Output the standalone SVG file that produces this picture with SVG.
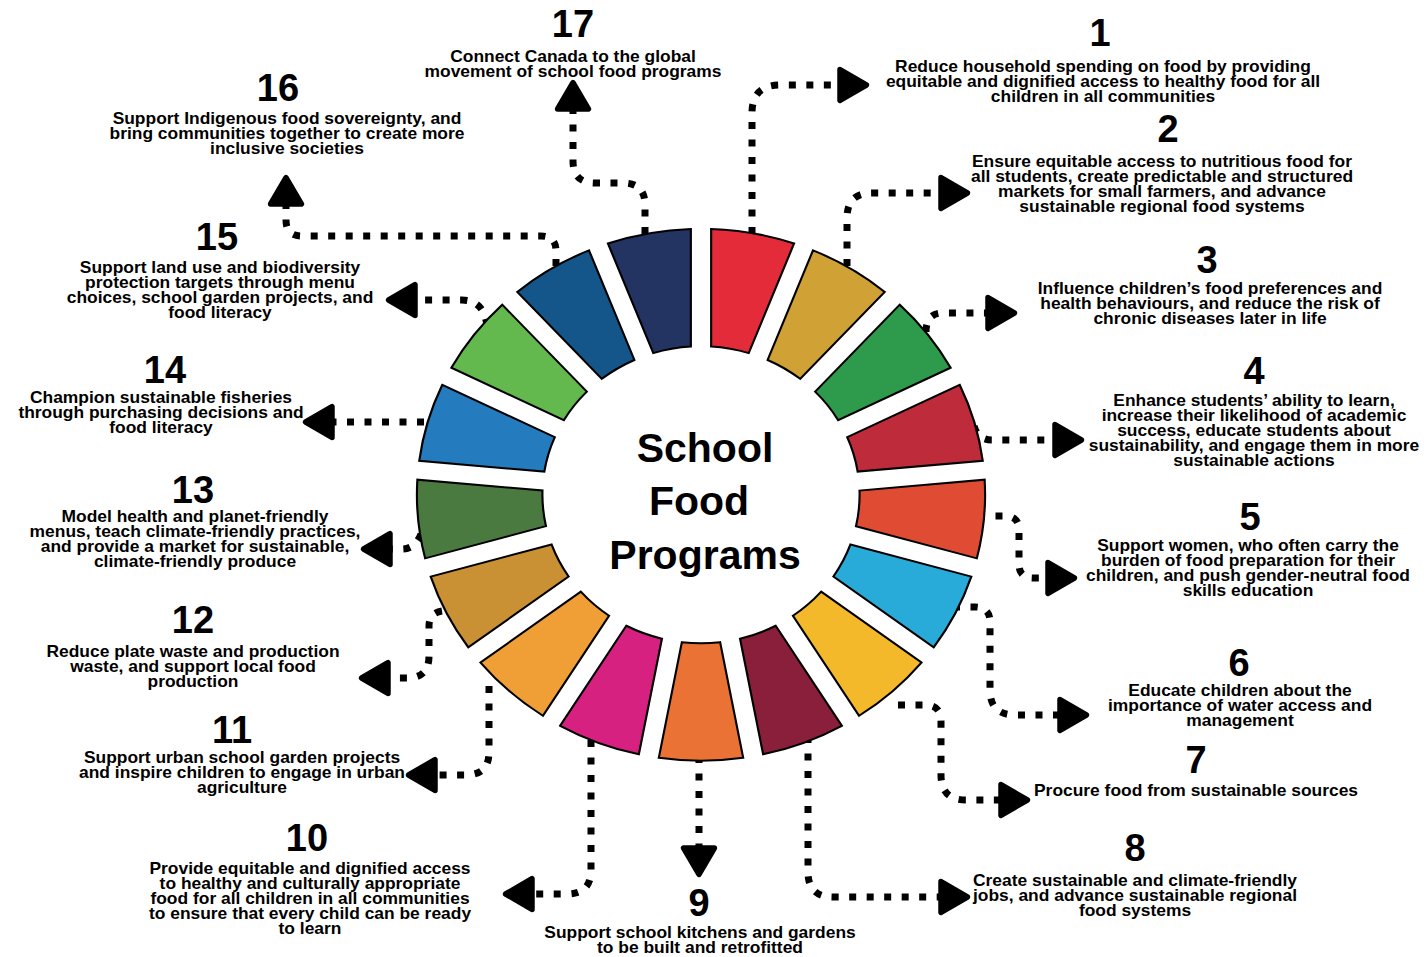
<svg xmlns="http://www.w3.org/2000/svg" xmlns:xlink="http://www.w3.org/1999/xlink" width="1427" height="957" viewBox="0 0 1427 957">
  <defs>
    <style>
      .seg { stroke: #000; stroke-width: 2; stroke-linejoin: miter; vector-effect: non-scaling-stroke; }
      .num { font-family: "Liberation Sans", Arial, sans-serif; font-weight: bold; font-size: 38px; fill: #000; text-anchor: middle; }
      .lbl { font-family: "Liberation Sans", Arial, sans-serif; font-weight: bold; font-size: 16.3px; fill: #000; text-anchor: middle; }
      .hub { font-family: "Liberation Sans", Arial, sans-serif; font-weight: bold; font-size: 41px; fill: #000; text-anchor: middle; }
      .link { fill: none; stroke: #000; stroke-width: 7; stroke-dasharray: 7 10.5; marker-end: url(#ah); }
    </style>
    <!-- one ring segment, spanning 0..21.18 deg clockwise from the top -->
    <path id="seg" d="M 9.5 -265.83 A 266 266 0 0 1 87.17 -251.31 L 44.68 -141.62 A 148.5 148.5 0 0 0 9.5 -148.2 Z"/>
    <marker id="ah" markerUnits="userSpaceOnUse" markerWidth="44" markerHeight="44" viewBox="-6 -20 40 40" refX="0" refY="0" orient="auto" overflow="visible">
      <path d="M 0 -14 L 24 0 L 0 14 Z" fill="#000" stroke="#000" stroke-width="5" stroke-linejoin="round"/>
    </marker>
  </defs>

  <rect width="1427" height="957" fill="#fff"/>

  <!-- dotted connectors from each segment to its label -->
  <g id="connectors">
    <path class="link" d="M 752 234 V 113 Q 752 85 780 85 H 840"/>
    <path class="link" d="M 847 266 V 218 Q 847 193 872 193 H 941"/>
    <path class="link" d="M 926 332 Q 926 313 943 313 H 988"/>
    <path class="link" d="M 974 426 Q 978 440 992 440 H 1055"/>
    <path class="link" d="M 978 516 H 1005 Q 1019 516 1019 530 V 564 Q 1019 578 1033 578 H 1048"/>
    <path class="link" d="M 953 607 H 975 Q 990 607 990 622 V 690 Q 990 715 1015 715 H 1060"/>
    <path class="link" d="M 898 705 H 925 Q 941 705 941 721 V 775 Q 941 800 966 800 H 1001"/>
    <path class="link" d="M 808 736 V 872 Q 808 897 833 897 H 941"/>
    <path class="link" d="M 699 756 V 848"/>
    <path class="link" d="M 591 740 V 870 Q 591 894 567 894 H 532"/>
    <path class="link" d="M 489 686 V 752 Q 489 775 466 775 H 435"/>
    <path class="link" d="M 442 611 Q 429 613 429 626 V 656 Q 429 678 407 678 H 388"/>
    <path class="link" d="M 421 534 Q 415 549 402 549 H 390"/>
    <path class="link" d="M 424 422 H 332"/>
    <path class="link" d="M 487 326 Q 484 300 462 300 H 415"/>
    <path class="link" d="M 556 266 V 251 Q 556 236 541 236 H 302 Q 286 236 286 220 V 204"/>
    <path class="link" d="M 645 234 V 205 Q 645 183 623 183 H 595 Q 573 183 573 161 V 109"/>
  </g>

  <g id="goal-1">
    <use xlink:href="#seg" href="#seg" class="seg" fill="#E32B3A" transform="translate(701 494.75) scale(1.068 1) rotate(0)"/>
    <text class="num" x="1100" y="46">1</text>
    <text class="lbl" transform="translate(1103 0) scale(1.068 1)"><tspan x="0" y="72">Reduce household spending on food by providing</tspan><tspan x="0" y="87">equitable and dignified access to healthy food for all</tspan><tspan x="0" y="102">children in all communities</tspan></text>
  </g>
  <g id="goal-2">
    <use xlink:href="#seg" href="#seg" class="seg" fill="#D0A135" transform="translate(701 494.75) scale(1.068 1) rotate(21.1765)"/>
    <text class="num" x="1168" y="142">2</text>
    <text class="lbl" transform="translate(1162 0) scale(1.068 1)"><tspan x="0" y="167">Ensure equitable access to nutritious food for</tspan><tspan x="0" y="182">all students, create predictable and structured</tspan><tspan x="0" y="197">markets for small farmers, and advance</tspan><tspan x="0" y="212">sustainable regional food systems</tspan></text>
  </g>
  <g id="goal-3">
    <use xlink:href="#seg" href="#seg" class="seg" fill="#2E9A4B" transform="translate(701 494.75) scale(1.068 1) rotate(42.3529)"/>
    <text class="num" x="1207" y="273">3</text>
    <text class="lbl" transform="translate(1210 0) scale(1.068 1)"><tspan x="0" y="294">Influence children’s food preferences and</tspan><tspan x="0" y="309">health behaviours, and reduce the risk of</tspan><tspan x="0" y="324">chronic diseases later in life</tspan></text>
  </g>
  <g id="goal-4">
    <use xlink:href="#seg" href="#seg" class="seg" fill="#BE2B3B" transform="translate(701 494.75) scale(1.068 1) rotate(63.5294)"/>
    <text class="num" x="1254" y="384">4</text>
    <text class="lbl" transform="translate(1254 0) scale(1.068 1)"><tspan x="0" y="406">Enhance students’ ability to learn,</tspan><tspan x="0" y="421">increase their likelihood of academic</tspan><tspan x="0" y="436">success, educate students about</tspan><tspan x="0" y="451">sustainability, and engage them in more</tspan><tspan x="0" y="466">sustainable actions</tspan></text>
  </g>
  <g id="goal-5">
    <use xlink:href="#seg" href="#seg" class="seg" fill="#E04B34" transform="translate(701 494.75) scale(1.068 1) rotate(84.7059)"/>
    <text class="num" x="1250" y="530">5</text>
    <text class="lbl" transform="translate(1248 0) scale(1.068 1)"><tspan x="0" y="551">Support women, who often carry the</tspan><tspan x="0" y="566">burden of food preparation for their</tspan><tspan x="0" y="581">children, and push gender-neutral food</tspan><tspan x="0" y="596">skills education</tspan></text>
  </g>
  <g id="goal-6">
    <use xlink:href="#seg" href="#seg" class="seg" fill="#29ABDA" transform="translate(701 494.75) scale(1.068 1) rotate(105.8824)"/>
    <text class="num" x="1239" y="676">6</text>
    <text class="lbl" transform="translate(1240 0) scale(1.068 1)"><tspan x="0" y="696">Educate children about the</tspan><tspan x="0" y="711">importance of water access and</tspan><tspan x="0" y="726">management</tspan></text>
  </g>
  <g id="goal-7">
    <use xlink:href="#seg" href="#seg" class="seg" fill="#F4B92B" transform="translate(701 494.75) scale(1.068 1) rotate(127.0588)"/>
    <text class="num" x="1196" y="773">7</text>
    <text class="lbl" transform="translate(1196 0) scale(1.068 1)"><tspan x="0" y="796">Procure food from sustainable sources</tspan></text>
  </g>
  <g id="goal-8">
    <use xlink:href="#seg" href="#seg" class="seg" fill="#8A1F3C" transform="translate(701 494.75) scale(1.068 1) rotate(148.2353)"/>
    <text class="num" x="1135" y="861">8</text>
    <text class="lbl" transform="translate(1135 0) scale(1.068 1)"><tspan x="0" y="886">Create sustainable and climate-friendly</tspan><tspan x="0" y="901">jobs, and advance sustainable regional</tspan><tspan x="0" y="916">food systems</tspan></text>
  </g>
  <g id="goal-9">
    <use xlink:href="#seg" href="#seg" class="seg" fill="#E97234" transform="translate(701 494.75) scale(1.068 1) rotate(169.4118)"/>
    <text class="num" x="699" y="916">9</text>
    <text class="lbl" transform="translate(700 0) scale(1.068 1)"><tspan x="0" y="938">Support school kitchens and gardens</tspan><tspan x="0" y="953">to be built and retrofitted</tspan></text>
  </g>
  <g id="goal-10">
    <use xlink:href="#seg" href="#seg" class="seg" fill="#D72181" transform="translate(701 494.75) scale(1.068 1) rotate(190.5882)"/>
    <text class="num" x="307" y="851">10</text>
    <text class="lbl" transform="translate(310 0) scale(1.068 1)"><tspan x="0" y="874">Provide equitable and dignified access</tspan><tspan x="0" y="889">to healthy and culturally appropriate</tspan><tspan x="0" y="904">food for all children in all communities</tspan><tspan x="0" y="919">to ensure that every child can be ready</tspan><tspan x="0" y="934">to learn</tspan></text>
  </g>
  <g id="goal-11">
    <use xlink:href="#seg" href="#seg" class="seg" fill="#F09F36" transform="translate(701 494.75) scale(1.068 1) rotate(211.7647)"/>
    <text class="num" x="232" y="743">11</text>
    <text class="lbl" transform="translate(242 0) scale(1.068 1)"><tspan x="0" y="763">Support urban school garden projects</tspan><tspan x="0" y="778">and inspire children to engage in urban</tspan><tspan x="0" y="793">agriculture</tspan></text>
  </g>
  <g id="goal-12">
    <use xlink:href="#seg" href="#seg" class="seg" fill="#C99034" transform="translate(701 494.75) scale(1.068 1) rotate(232.9412)"/>
    <text class="num" x="193" y="633">12</text>
    <text class="lbl" transform="translate(193 0) scale(1.068 1)"><tspan x="0" y="657">Reduce plate waste and production</tspan><tspan x="0" y="672">waste, and support local food</tspan><tspan x="0" y="687">production</tspan></text>
  </g>
  <g id="goal-13">
    <use xlink:href="#seg" href="#seg" class="seg" fill="#4A7A40" transform="translate(701 494.75) scale(1.068 1) rotate(254.1176)"/>
    <text class="num" x="193" y="503">13</text>
    <text class="lbl" transform="translate(195 0) scale(1.068 1)"><tspan x="0" y="522">Model health and planet-friendly</tspan><tspan x="0" y="537">menus, teach climate-friendly practices,</tspan><tspan x="0" y="552">and provide a market for sustainable,</tspan><tspan x="0" y="567">climate-friendly produce</tspan></text>
  </g>
  <g id="goal-14">
    <use xlink:href="#seg" href="#seg" class="seg" fill="#247BBE" transform="translate(701 494.75) scale(1.068 1) rotate(275.2941)"/>
    <text class="num" x="165" y="383">14</text>
    <text class="lbl" transform="translate(161 0) scale(1.068 1)"><tspan x="0" y="403">Champion sustainable fisheries</tspan><tspan x="0" y="418">through purchasing decisions and</tspan><tspan x="0" y="433">food literacy</tspan></text>
  </g>
  <g id="goal-15">
    <use xlink:href="#seg" href="#seg" class="seg" fill="#64B94E" transform="translate(701 494.75) scale(1.068 1) rotate(296.4706)"/>
    <text class="num" x="217" y="250">15</text>
    <text class="lbl" transform="translate(220 0) scale(1.068 1)"><tspan x="0" y="273">Support land use and biodiversity</tspan><tspan x="0" y="288">protection targets through menu</tspan><tspan x="0" y="303">choices, school garden projects, and</tspan><tspan x="0" y="318">food literacy</tspan></text>
  </g>
  <g id="goal-16">
    <use xlink:href="#seg" href="#seg" class="seg" fill="#14568A" transform="translate(701 494.75) scale(1.068 1) rotate(317.6471)"/>
    <text class="num" x="278" y="101">16</text>
    <text class="lbl" transform="translate(287 0) scale(1.068 1)"><tspan x="0" y="124">Support Indigenous food sovereignty, and</tspan><tspan x="0" y="139">bring communities together to create more</tspan><tspan x="0" y="154">inclusive societies</tspan></text>
  </g>
  <g id="goal-17">
    <use xlink:href="#seg" href="#seg" class="seg" fill="#233463" transform="translate(701 494.75) scale(1.068 1) rotate(338.8235)"/>
    <text class="num" x="573" y="37">17</text>
    <text class="lbl" transform="translate(573 0) scale(1.068 1)"><tspan x="0" y="62">Connect Canada to the global</tspan><tspan x="0" y="77">movement of school food programs</tspan></text>
  </g>

  <g id="hub">
    <text class="hub" x="705" y="462">School</text>
    <text class="hub" x="699" y="515">Food</text>
    <text class="hub" x="705" y="569">Programs</text>
  </g>
</svg>
